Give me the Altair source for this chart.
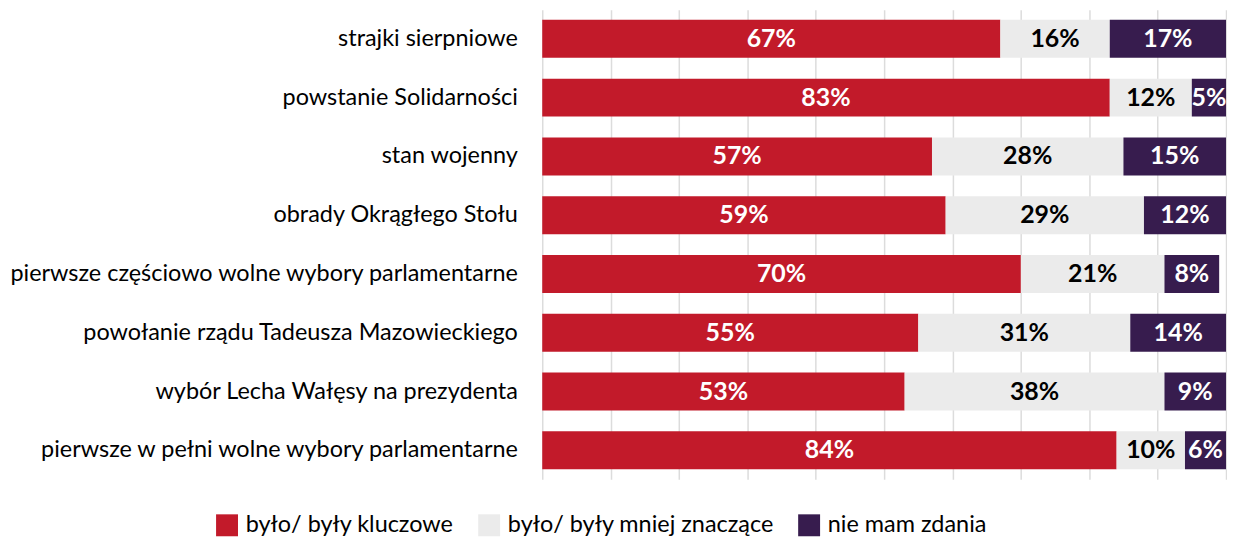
import altair as alt
import pandas as pd

categories = [
    "strajki sierpniowe",
    "powstanie Solidarności",
    "stan wojenny",
    "obrady Okrągłego Stołu",
    "pierwsze częściowo wolne wybory parlamentarne",
    "powołanie rządu Tadeusza Mazowieckiego",
    "wybór Lecha Wałęsy na prezydenta",
    "pierwsze w pełni wolne wybory parlamentarne",
]
kluczowe = [67, 83, 57, 59, 70, 55, 53, 84]
mniej = [16, 12, 28, 29, 21, 31, 38, 10]
brak = [17, 5, 15, 12, 8, 14, 9, 6]

series_names = ["było/ były kluczowe", "było/ były mniej znaczące", "nie mam zdania"]
series_colors = ["#C21A2A", "#EBEBEB", "#371C4E"]

rows = []
for i, c in enumerate(categories):
    for j, vals in enumerate([kluczowe, mniej, brak]):
        rows.append({"cat": c, "series": series_names[j], "order": j, "value": vals[i]})
df = pd.DataFrame(rows)

base = alt.Chart(df).transform_stack(
    stack="value", groupby=["cat"], as_=["x0", "x1"], sort=[alt.SortField("order")]
).transform_calculate(mid="(datum.x0 + datum.x1) / 2", lab="datum.value + '%'")

y = alt.Y(
    "cat:N",
    sort=categories,
    title=None,
    scale=alt.Scale(paddingInner=0.354, paddingOuter=0.17),
    axis=alt.Axis(
        ticks=False, domain=False, labelPadding=25, labelFontSize=23.5,
        labelColor="#000000", labelLimit=600, minExtent=533, maxExtent=533,
    ),
)

bars = base.mark_bar().encode(
    x=alt.X(
        "x0:Q",
        scale=alt.Scale(domain=[0, 100], nice=False, zero=True),
        axis=alt.Axis(
            values=list(range(0, 101, 10)), labels=False, ticks=False, domain=False,
            grid=True, gridColor="#DCDCDC", gridWidth=1.5, title=None,
        ),
    ),
    x2="x1:Q",
    y=y,
    color=alt.Color(
        "series:N",
        scale=alt.Scale(domain=series_names, range=series_colors),
        sort=series_names,
        legend=alt.Legend(
            title=None, orient="none", direction="horizontal", legendX=-328, legendY=505,
            symbolType="square", symbolSize=484, symbolStrokeWidth=0, labelFontSize=23.5,
            labelColor="#000000", labelOffset=7, columnPadding=23, labelLimit=400,
        ),
    ),
)

texts = base.mark_text(fontSize=25, fontWeight="bold", baseline="middle", align="center").encode(
    x="mid:Q",
    y=alt.Y("cat:N", sort=categories),
    text="lab:N",
    color=alt.condition(
        alt.datum.order == 1, alt.value("#000000"), alt.value("#FFFFFF")
    ),
)

chart = (
    alt.layer(bars, texts)
    .properties(width=686, height=471, padding={"left": 0, "top": 1, "right": 0, "bottom": 0})
    .configure(font="Lato")
    .configure_view(stroke=None)
)

chart.save("out.html", embed_options={"renderer": "svg", "actions": False})
